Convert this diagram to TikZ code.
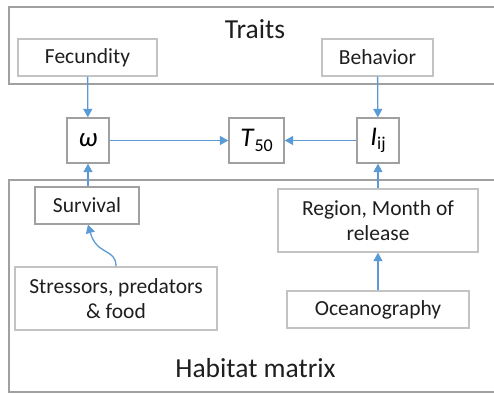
\documentclass[tikz,border=0pt]{standalone}
\usepackage{fontspec}
\setmainfont{Carlito}
\usetikzlibrary{arrows.meta}
\definecolor{linkblue}{HTML}{5B9BD5}
\definecolor{lightedge}{HTML}{C3C3C3}
\definecolor{darkedge}{HTML}{A0A0A0}
\definecolor{inktext}{HTML}{1E1E1E}
\tikzset{
  frame/.style={draw=darkedge, line width=1.3pt},
  box/.style={draw=lightedge, line width=1.3pt, inner sep=0pt, text=inktext,
    font=\fontsize{21.5}{25}\selectfont, align=center},
  varbox/.style={draw=darkedge, line width=1.3pt, inner sep=0pt, text=black,
    minimum width=42pt, minimum height=45pt, font=\fontsize{27}{29}\selectfont},
  title/.style={text=inktext, font=\fontsize{27.5}{30}\selectfont},
  link/.style={draw=linkblue, line width=1.3pt, -{Triangle[width=9pt,length=8.5pt]}}
}
\newcommand{\sub}[1]{\raisebox{-0.35ex}{\fontsize{18}{18}\selectfont #1}}
\begin{document}
\begin{tikzpicture}[x=1pt, y=-1pt]
			%%%%% START %%%%%
			\useasboundingbox (0, 0) rectangle (494, 393);
			
			\draw[frame] (9, 7) rectangle (497, 84);
			\draw[frame] (9, 180) rectangle (497, 392);
			
			\node[title] (traits) at (255, 29) {Traits};
			\node[title] (habitat) at (255.5, 368) {Habitat matrix};
			
			\node[box, minimum width=139pt, minimum height=37pt] (fecundity) at (87.5, 57.5) {Fecundity};
			\node[box, minimum width=111pt, minimum height=37pt] (behavior) at (377.5, 57.5) {Behavior};
			
			\node[varbox] (omega) at (88, 140.5) {\textit{ω}};
			\node[varbox, minimum width=55pt] (tfifty) at (256.5, 140.5) {\textit{T}\sub{50}};
			\node[varbox] (iij) at (378, 140.5) {\textit{I}\sub{ij}};
			
			\node[box, draw=darkedge, minimum width=104pt, minimum height=37pt] (survival) at (87, 205.5) {Survival};
			\node[box, minimum width=200pt, minimum height=63pt] (region) at (378, 220.5) {Region, Month of\\release};
			\node[box, minimum width=202pt, minimum height=63pt] (stressors) at (116, 298.5) {Stressors, predators\\\& food};
			\node[box, minimum width=182pt, minimum height=37pt] (ocean) at (378, 309.5) {Oceanography};
			
			\draw[link] (fecundity) -- (omega);
			\draw[link] (behavior) -- (iij);
			\draw[link] (omega) -- (tfifty);
			\draw[link] (iij) -- (tfifty);
			\draw[link] (survival.north -| omega) -- (omega);
			\draw[link] (region) -- (iij);
			\draw[link] (ocean) -- (region);
			\draw[link] (stressors.north) .. controls (116, 248) and (97, 256) .. ([xshift=1pt]survival.south);
			
			%%%%% END %%%%%
\end{tikzpicture}
\end{document}
